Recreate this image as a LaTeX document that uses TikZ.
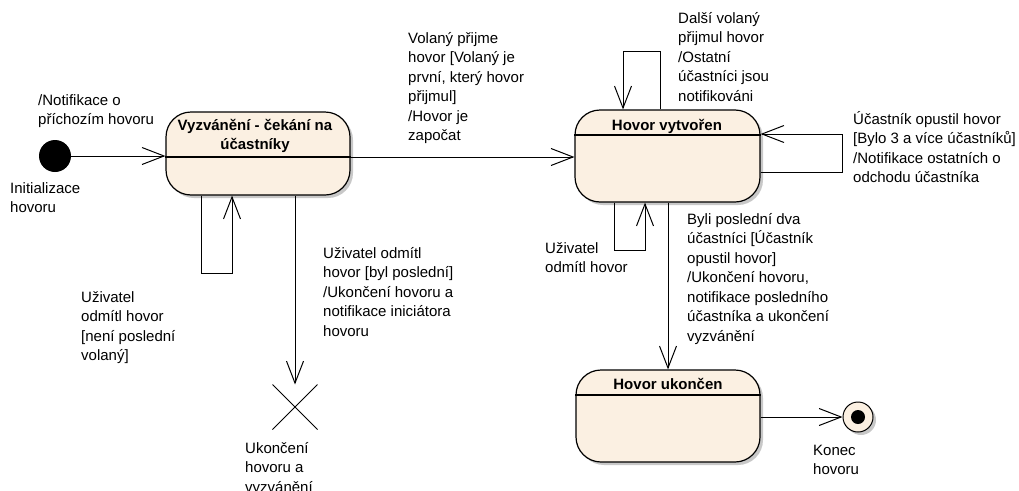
\documentclass[tikz,border=0pt]{standalone}
\usepackage{fontspec}
\setmainfont{Liberation Sans}
\usetikzlibrary{arrows.meta,shapes.misc,shadows}
\definecolor{statefill}{RGB}{251,240,226}
\definecolor{shadowgrey}{RGB}{200,200,200}
\newcommand\lblfont{\fontsize{15}{19.5}\selectfont}
\newcommand\fl{\rule{0pt}{15pt}}
\tikzset{
  statebox/.style={draw=black, line width=1.2pt, fill=statefill, rounded corners=25pt,
    inner sep=0pt, minimum width=#1,
    drop shadow={shadow xshift=3pt, shadow yshift=-3pt, fill=shadowgrey, opacity=1}},
  statebox/.default=184pt,
  title/.style={anchor=north, inner sep=0pt, align=center, font=\lblfont\bfseries},
  lbl/.style={anchor=north west, inner sep=0pt, align=left, font=\lblfont},
  tr/.style={draw=black, line width=1pt, -{Straight Barb[length=22pt,width=17pt]}},
  divider/.style={draw=black, line width=1.2pt},
}
\begin{document}
\begin{tikzpicture}[x=1pt, y=-1pt]
\useasboundingbox (0,0) rectangle (1019,490);

% states
\node[statebox=184pt, minimum height=83pt] (s1) at (258,153.5) {};
\node[statebox=185pt, minimum height=92pt] (s2) at (667.5,156) {};
\node[statebox=184pt, minimum height=92pt] (s3) at (668,416) {};
\draw[divider] (s1.west |- 0,157) -- (s1.east |- 0,157);
\draw[divider] (s2.west |- 0,135) -- (s2.east |- 0,135);
\draw[divider] (s3.west |- 0,395) -- (s3.east |- 0,395);
\node[title] (t1) at (255,115) {\fl Vyzvánění - čekání na\\účastníky};
\node[title] (t2) at (667,115) {\fl Hovor vytvořen};
\node[title] (t3) at (668,374) {\fl Hovor ukončen};

% pseudo states
\node[circle, fill=black, inner sep=0pt, minimum size=32pt] (init) at (55,156) {};
\node[circle, draw=black, line width=1pt, fill=statefill, inner sep=0pt, minimum size=30pt,
  drop shadow={shadow xshift=3pt, shadow yshift=-3pt, fill=shadowgrey, opacity=1}] (fin) at (858,417) {};
\node[circle, fill=black, inner sep=0pt, minimum size=14pt] (findot) at (fin.center) {};
\node[cross out, draw=black, line width=1pt, inner sep=0pt, minimum size=44pt] (term) at (295,407) {};

% transitions
\draw[tr] (init.east) -- (init -| s1.west);
\draw[tr] (s1.east |- 0,157) -- (s2.west |- 0,157);
\draw[tr] (s1.south -| 201,0) -- (201,273) -- (232,273) -- (s1.south -| 232,0);
\draw[tr] (s1.south -| term.north) -- (term.north);
\draw[tr] (s2.north -| 660,0) -- (660,51) -- (623,51) -- (s2.north -| 623,0);
\draw[tr] (s2.east |- 0,172) -- (842,172) -- (842,134) -- (s2.east |- 0,134);
\draw[tr] (s2.south -| 614,0) -- (614,250) -- (645,250) -- (s2.south -| 645,0);
\draw[tr] (s2.south -| s3.north) -- (s3.north);
\draw[tr] (s3.east |- fin.west) -- (fin.west);

% labels
\node[lbl] (lnotif) at (38,90) {\fl/Notifikace o\\příchozím hovoru};
\node[lbl] (linit) at (10,178) {\fl Initializace\\hovoru};
\node[lbl] (lprijme) at (408,28) {\fl Volaný přijme\\hovor [Volaný je\\první, který hovor\\přijmul]\\/Hovor je\\započat};
\node[lbl] (ldalsi) at (678,8) {\fl Další volaný\\přijmul hovor\\/Ostatní\\účastníci jsou\\notifikováni};
\node[lbl] (lopustil) at (853,109) {\fl Účastník opustil hovor\\{}[Bylo 3 a více účastníků]\\/Notifikace ostatních o\\odchodu účastníka};
\node[lbl] (lbyli) at (687,209) {\fl Byli poslední dva\\účastníci [Účastník\\opustil hovor]\\/Ukončení hovoru,\\notifikace posledního\\účastníka a ukončení\\vyzvánění};
\node[lbl] (lodmitl2) at (545,238) {\fl Uživatel\\odmítl hovor};
\node[lbl] (lodmitl1) at (81,287) {\fl Uživatel\\odmítl hovor\\{}[není poslední\\volaný]};
\node[lbl] (lbyl) at (323,243) {\fl Uživatel odmítl\\hovor [byl poslední]\\/Ukončení hovoru a\\notifikace iniciátora\\hovoru};
\node[lbl] (lterm) at (245,438) {\fl Ukončení\\hovoru a\\vyzvánění};
\node[lbl] (lkonec) at (813,440) {\fl Konec\\hovoru};
\end{tikzpicture}
\end{document}
